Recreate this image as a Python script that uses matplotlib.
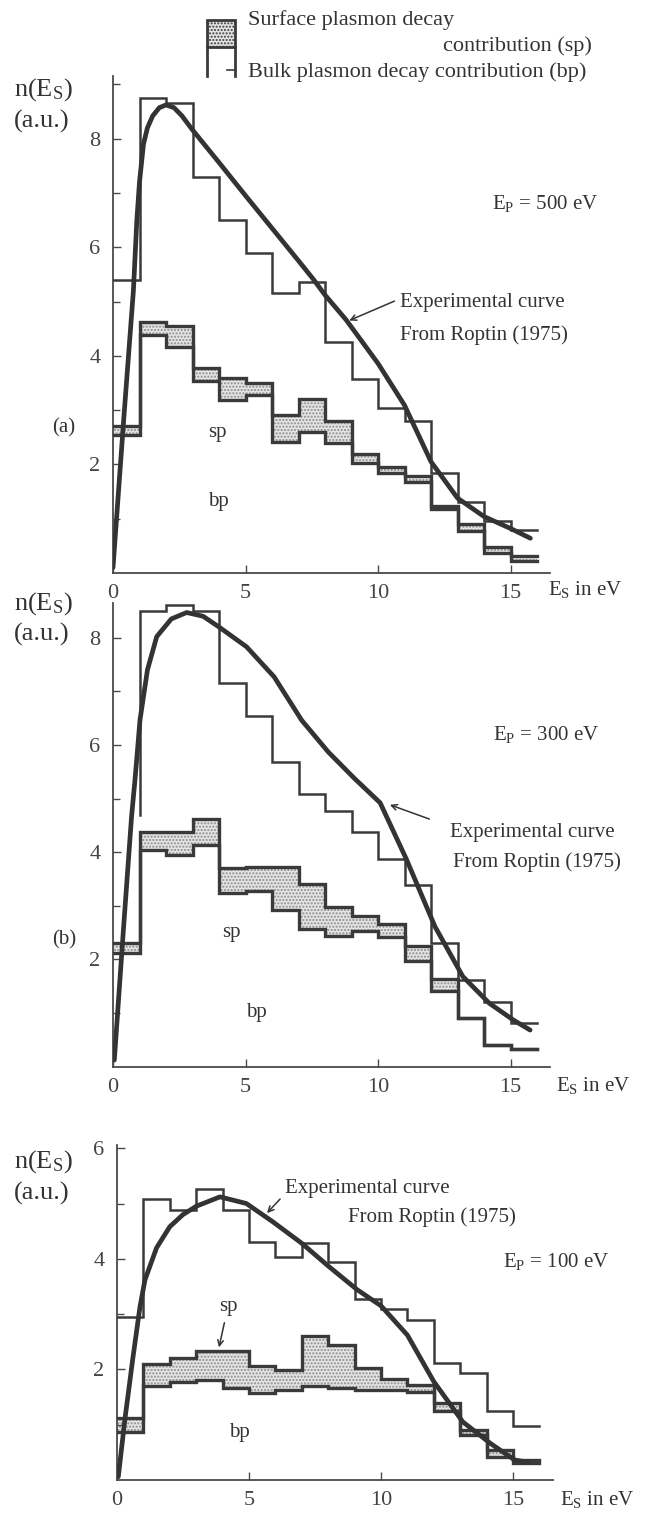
import numpy as np
import matplotlib
matplotlib.use("Agg")
import matplotlib.pyplot as plt
from matplotlib.patches import Rectangle
from matplotlib.lines import Line2D

plt.rcParams['font.family'] = ['Liberation Serif', 'DejaVu Serif']
plt.rcParams['mathtext.fontset'] = 'custom'
plt.rcParams['mathtext.rm'] = 'Liberation Serif'
plt.rcParams['mathtext.it'] = 'Liberation Serif:italic'
plt.rcParams['hatch.linewidth'] = 1.0
plt.rcParams['hatch.color'] = '#8c8c8c'

# ---------------- data ----------------
bin_edges = np.arange(0, 17)  # 1 eV bins, 0..16 eV

# (a) Ep = 500 eV
a_total = [5.4, 8.75, 8.65, 7.3, 6.5, 5.9, 5.15, 5.35, 4.25, 3.57, 3.03, 2.8, 1.85, 1.3, 0.96, 0.80]
a_sp = [2.7, 4.63, 4.55, 3.77, 3.59, 3.49, 2.91, 3.20, 2.80, 2.20, 1.96, 1.79, 1.23, 0.90, 0.48, 0.31]
a_bp = [2.55, 4.38, 4.17, 3.54, 3.19, 3.27, 2.42, 2.60, 2.39, 2.03, 1.84, 1.68, 1.17, 0.78, 0.37, 0.23]
a_exp_E = [0.0, 0.4, 0.77, 0.9, 1.0, 1.15, 1.3, 1.5, 1.75, 2.0, 2.3, 2.6, 3.0, 4.0, 5.0, 6.0, 7.0,
           7.56, 8.0, 8.8, 10.0, 11.0, 12.0, 13.0, 14.0, 15.0, 15.75]
a_exp_n = [0.1, 2.8, 5.2, 6.5, 7.2, 7.9, 8.2, 8.42, 8.57, 8.62, 8.57, 8.42, 8.16, 7.56, 6.95, 6.35, 5.75,
           5.41, 5.12, 4.66, 3.86, 3.09, 2.05, 1.38, 1.04, 0.82, 0.64]

# (b) Ep = 300 eV
b_total = [4.7, 8.49, 8.61, 8.50, 7.16, 6.53, 5.69, 5.08, 4.77, 4.38, 3.88, 3.39, 2.30, 1.61, 1.21, 0.81]
b_sp = [2.31, 4.38, 4.38, 4.61, 3.70, 3.73, 3.73, 3.40, 2.98, 2.81, 2.66, 2.24, 1.63, 0.90, 0.40, 0.32]
b_bp = [2.12, 4.04, 3.95, 4.13, 3.23, 3.27, 2.92, 2.57, 2.43, 2.52, 2.42, 1.96, 1.40, 0.90, 0.40, 0.32]
b_exp_E = [0.05, 0.4, 0.7, 0.83, 1.02, 1.3, 1.65, 2.2, 2.78, 3.4, 4.0, 5.04, 6.08, 7.12, 8.12, 9.1,
           10.08, 11.06, 12.15, 13.2, 14.2, 15.1, 15.74]
b_exp_n = [0.12, 2.6, 4.66, 5.35, 6.47, 7.4, 8.02, 8.35, 8.47, 8.4, 8.2, 7.83, 7.27, 6.46, 5.87, 5.38,
           4.92, 3.88, 2.61, 1.68, 1.18, 0.87, 0.68]

# (c) Ep = 100 eV
c_total = [2.95, 5.08, 4.88, 5.26, 4.89, 4.31, 4.04, 4.28, 3.95, 3.27, 3.10, 2.89, 2.11, 1.93, 1.25, 0.98]
c_sp = [1.12, 2.09, 2.20, 2.34, 2.34, 2.07, 1.99, 2.60, 2.44, 2.02, 1.83, 1.72, 1.39, 0.90, 0.54, 0.36]
c_bp = [0.86, 1.70, 1.78, 1.81, 1.66, 1.57, 1.62, 1.70, 1.66, 1.63, 1.63, 1.60, 1.24, 0.81, 0.42, 0.30]
c_exp_E = [0.05, 0.3, 0.6, 0.87, 1.06, 1.5, 2.0, 2.5, 3.0, 3.9, 4.9, 5.9, 7.0, 8.0, 9.1, 10.0, 11.0,
           12.0, 13.1, 14.15, 15.07, 15.6]
c_exp_n = [0.06, 1.1, 2.2, 3.13, 3.62, 4.2, 4.58, 4.8, 4.95, 5.12, 5.0, 4.67, 4.28, 3.87, 3.44, 3.15, 2.62,
           1.78, 1.05, 0.66, 0.36, 0.32]

x_ticks = [0, 5, 10, 15]
x_ticklabels = ['0', '5', '10', '15']

# ---------------- figure ----------------
W, H = 670, 1513
fig = plt.figure(figsize=(W / 100, H / 100), dpi=100)
INK = '#3a3a3a'


def fx(px):
    return px / W


def fy(py):
    return 1 - py / H


def make_axes(x0, y0, xs, ys, xmax, ymax):
    ax = fig.add_axes([fx(x0), fy(y0), xmax * xs / W, ymax * ys / H])
    ax.set_xlim(0, xmax)
    ax.set_ylim(0, ymax)
    for s in ('top', 'right'):
        ax.spines[s].set_visible(False)
    for s in ('left', 'bottom'):
        ax.spines[s].set_linewidth(1.3)
        ax.spines[s].set_color('#4a4a4a')
    ax.set_xticks(x_ticks)
    ax.set_xticklabels(x_ticklabels)
    ax.tick_params(axis='both', direction='in', length=6, width=1.0, colors='#4a4a4a',
                   labelsize=16, labelcolor='#444444')
    ax.tick_params(axis='x', pad=8)
    ax.tick_params(axis='y', pad=9)
    ax.tick_params(which='minor', direction='in', length=5, width=1.0, colors='#4a4a4a')
    ax.patch.set_alpha(0)
    return ax


def stair_xy(edges, vals, skip_first=False):
    xs = np.repeat(np.asarray(edges, float), 2)[1:-1]
    ys = np.repeat(np.asarray(vals, float), 2)
    if skip_first:
        xs, ys = xs[1:], ys[1:]
    return xs, ys


def draw_panel(ax, total, sp, bp, eE, en, skip_first=False):
    edges = bin_edges
    ext_sp = np.append(sp, sp[-1])
    ext_bp = np.append(bp, bp[-1])
    ax.fill_between(edges, ext_bp, ext_sp, step='post', facecolor='#e4e4e4',
                    edgecolor='#8c8c8c', hatch='.....', linewidth=0, zorder=1)
    xs, ys = stair_xy(edges, bp)
    ax.plot(xs, ys, color=INK, lw=2.4, solid_joinstyle='miter', zorder=3)
    xs, ys = stair_xy(edges, sp)
    ax.plot(xs, ys, color=INK, lw=2.4, solid_joinstyle='miter', zorder=3)
    xs, ys = stair_xy(edges, total, skip_first)
    ax.plot(xs, ys, color=INK, lw=1.8, solid_joinstyle='miter', zorder=3)
    ax.plot(eE, en, color='#333333', lw=3.4, solid_capstyle='round', zorder=4)


def ftext(x, y, s, size=15, ha='left', va='center', **kw):
    fig.text(fx(x), fy(y), s, fontsize=size, ha=ha, va=va, color='#333333', **kw)


# ---- panel (a)
axa = make_axes(113, 573, 26.5, 54.3, 16.5, 9.15)
axa.set_yticks([2, 4, 6, 8])
axa.set_yticks([1, 3, 5, 7, 9], minor=True)
draw_panel(axa, a_total, a_sp, a_bp, a_exp_E, a_exp_n)
axa.annotate('', xy=(8.82, 4.63), xytext=(fx(397), fy(300)), textcoords='figure fraction',
             arrowprops=dict(arrowstyle='->', color='#333333', lw=1.1), zorder=5)
ftext(400, 303, 'Experimental curve')
ftext(400, 335, 'From Roptin (1975)')
ftext(492, 203, r'E$_{\rm P}$ = 500 eV')
ftext(52, 428, '(a)', size=15)
ftext(208, 433, 'sp')
ftext(208, 502, 'bp')
ftext(548, 590, r'E$_{\rm S}$ in eV', size=15)
ftext(14, 90, r'n(E$_{\rm S}$)', size=19)
ftext(14, 121, '(a.u.)', size=19)

# ---- panel (b)
axb = make_axes(113, 1066.5, 26.5, 53.6, 16.5, 8.65)
axb.set_yticks([2, 4, 6, 8])
axb.set_yticks([1, 3, 5, 7], minor=True)
draw_panel(axb, b_total, b_sp, b_bp, b_exp_E, b_exp_n, skip_first=True)
axb.annotate('', xy=(10.35, 4.90), xytext=(fx(432), fy(820)), textcoords='figure fraction',
             arrowprops=dict(arrowstyle='->', color='#333333', lw=1.1), zorder=5)
ftext(450, 832, 'Experimental curve')
ftext(453, 862, 'From Roptin (1975)')
ftext(493, 735, r'E$_{\rm P}$ = 300 eV')
ftext(52, 940, '(b)', size=15)
ftext(222, 933, 'sp')
ftext(246, 1013, 'bp')
ftext(556, 1085, r'E$_{\rm S}$ in eV', size=15)
ftext(14, 604, r'n(E$_{\rm S}$)', size=19)
ftext(14, 634, '(a.u.)', size=19)

# ---- panel (c)
axc = make_axes(117, 1480, 26.4, 55.3, 16.5, 6.05)
axc.set_yticks([2, 4, 6])
axc.set_yticks([1, 3, 5], minor=True)
draw_panel(axc, c_total, c_sp, c_bp, c_exp_E, c_exp_n)
axc.annotate('', xy=(5.61, 4.79), xytext=(fx(282), fy(1197)), textcoords='figure fraction',
             arrowprops=dict(arrowstyle='->', color='#333333', lw=1.1), zorder=5)
axc.annotate('', xy=(3.84, 2.35), xytext=(fx(225), fy(1320)), textcoords='figure fraction',
             arrowprops=dict(arrowstyle='->', color='#333333', lw=1.1), zorder=5)
ftext(285, 1188, 'Experimental curve')
ftext(348, 1217, 'From Roptin (1975)')
ftext(503, 1262, r'E$_{\rm P}$ = 100 eV')
ftext(219, 1307, 'sp')
ftext(229, 1433, 'bp')
ftext(560, 1499, r'E$_{\rm S}$ in eV', size=15)
ftext(14, 1162, r'n(E$_{\rm S}$)', size=19)
ftext(14, 1193, '(a.u.)', size=19)

# ---- legend (top)
lx0, lx1 = 206.7, 235.0
ly0, ly1, ly2 = 20.0, 46.7, 76.0
fig.add_artist(Rectangle((fx(lx0), fy(ly1)), fx(lx1) - fx(lx0), fy(ly0) - fy(ly1),
                         transform=fig.transFigure, facecolor='#e4e4e4', edgecolor=INK,
                         hatch='.....', linewidth=2.0))
for xx in (lx0, lx1):
    fig.add_artist(Line2D([fx(xx), fx(xx)], [fy(ly1), fy(ly2)], transform=fig.transFigure,
                          color=INK, lw=2.0))
fig.add_artist(Line2D([fx(lx1 - 8), fx(lx1)], [fy(ly2 - 6), fy(ly2 - 6)], transform=fig.transFigure,
                      color=INK, lw=1.2))
ftext(248, 20, 'Surface plasmon decay', size=16)
ftext(443, 46, 'contribution (sp)', size=16)
ftext(248, 72, 'Bulk plasmon decay contribution (bp)', size=16)

fig.savefig('out.png', dpi=100, facecolor='white')
